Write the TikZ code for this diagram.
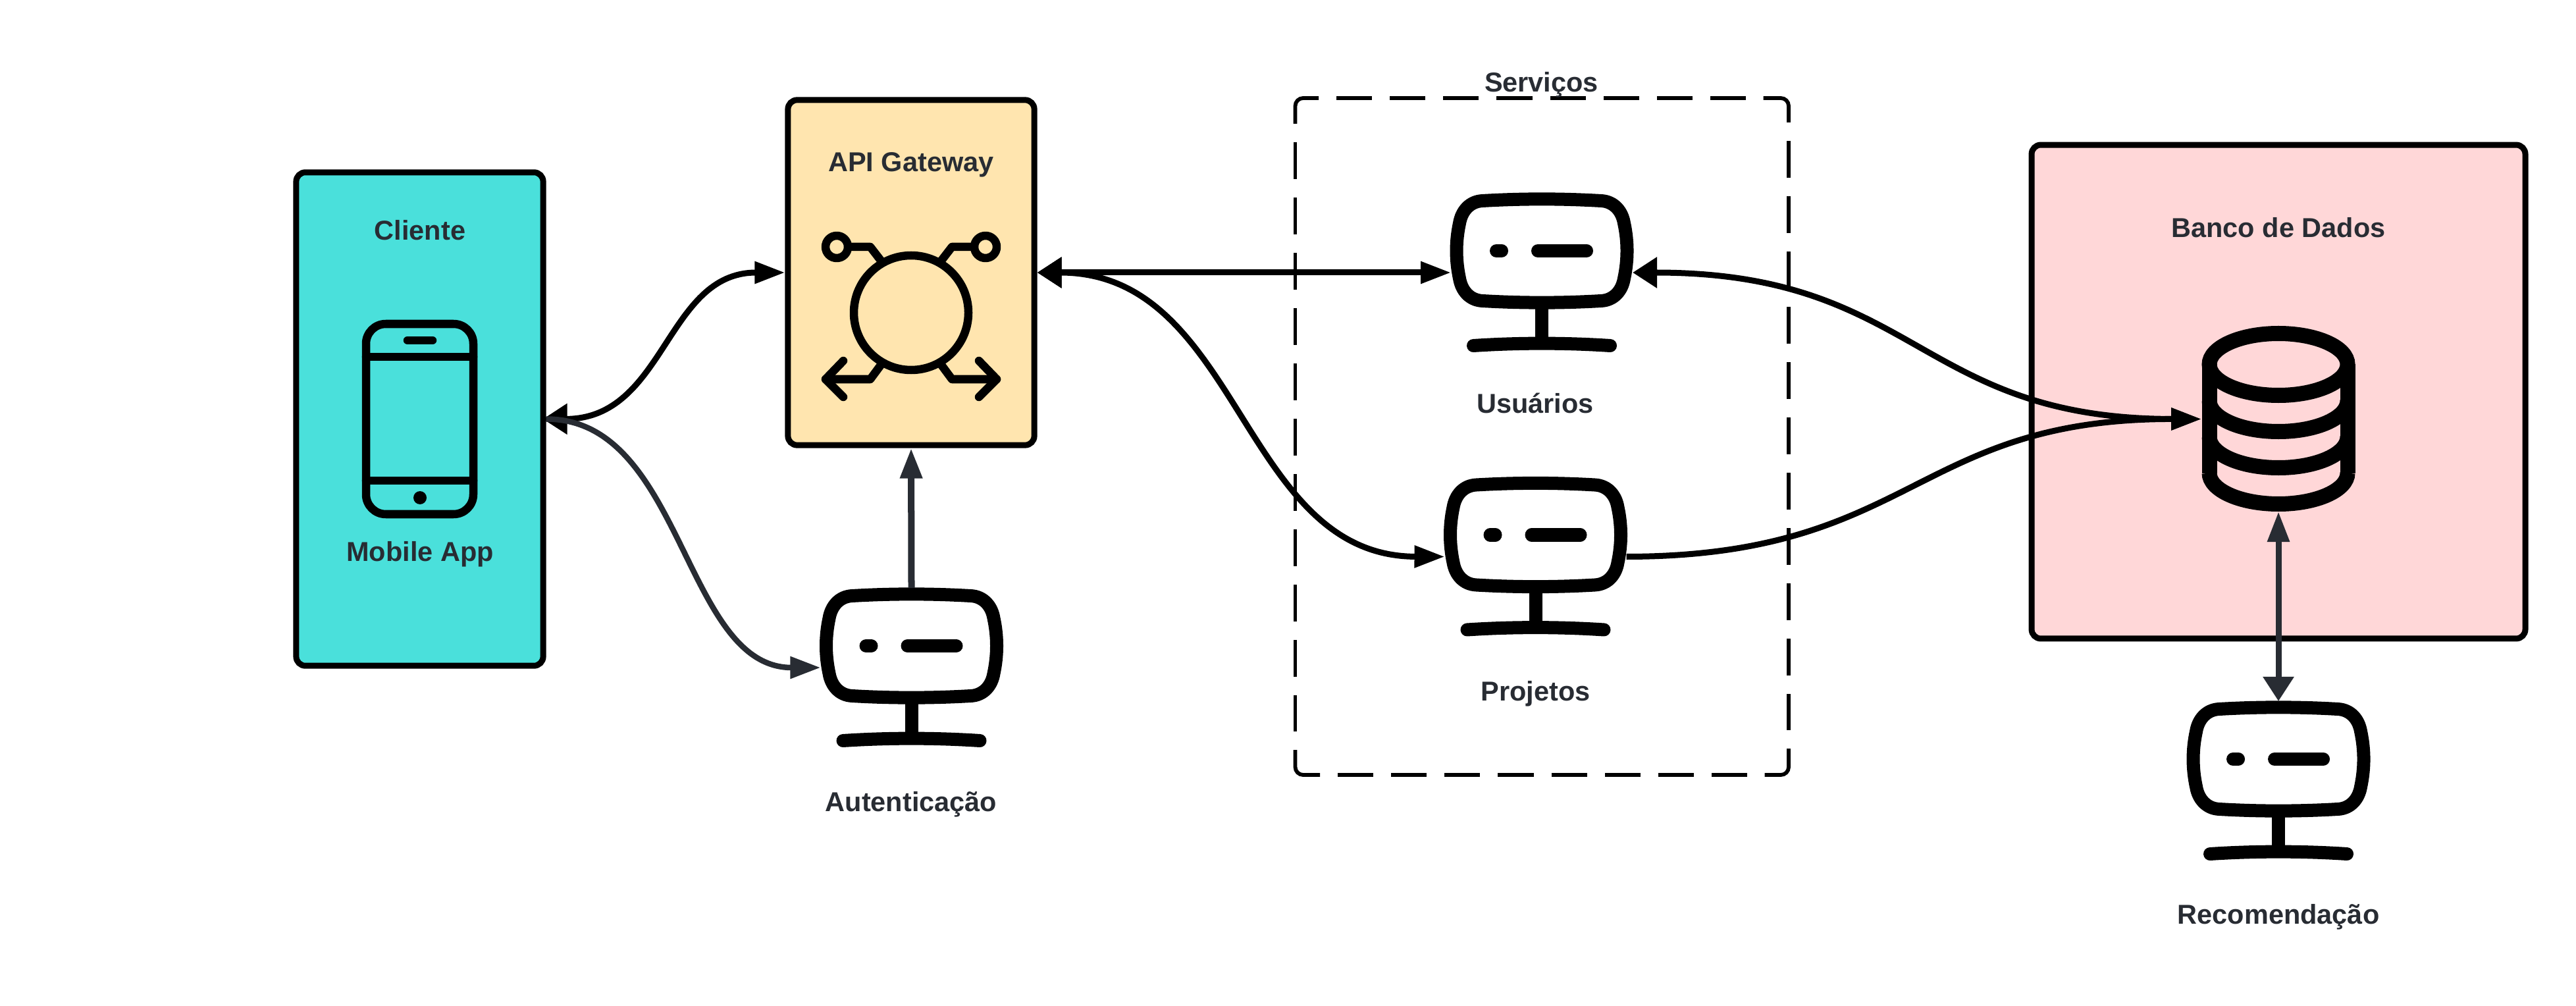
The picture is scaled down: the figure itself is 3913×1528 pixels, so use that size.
\documentclass[tikz,border=0pt]{standalone}
\usepackage{fontspec}
\setmainfont{Liberation Sans}
\usetikzlibrary{arrows.meta}

\definecolor{ink}{HTML}{282C33}
\definecolor{clientfill}{HTML}{4AE0DB}
\definecolor{gatewayfill}{HTML}{FFE5AF}
\definecolor{bankfill}{HTML}{FFD7D8}

\tikzset{
  box/.style={draw=black, line width=0.09cm, rounded corners=0.14cm, inner sep=0pt},
  label/.style={text=ink, font=\fontsize{11.8pt}{14pt}\selectfont\bfseries, inner sep=0pt, anchor=base},
  wide/.tip={Triangle[length=0.37cm,width=0.45cm]},
  slim/.tip={Triangle[length=0.46cm,width=0.32cm]},
  link/.style={line width=0.09cm, black, wide-slim},
  oneway/.style={line width=0.09cm, -slim},
  fence/.style={line width=0.058cm, rounded corners=0.12cm},
  fencedash/.style={line width=0.058cm, dash pattern=on 0.56cm off 0.28cm},
  icon/.style={line width=0.125cm, line cap=round, line join=round},
  server/.pic={
    \filldraw[fill=white, line width=0.2cm, line join=round]
      (-90,-76) .. controls (-30,-79.5) and (30,-79.5) .. (90,-76)
      .. controls (110,-75) and (122,-60) .. (125,-42)
      .. controls (131,-14) and (131,14) .. (125,42)
      .. controls (122,60) and (110,75) .. (90,76)
      .. controls (30,79.5) and (-30,79.5) .. (-90,76)
      .. controls (-110,75) and (-122,60) .. (-125,42)
      .. controls (-131,14) and (-131,-14) .. (-125,-42)
      .. controls (-122,-60) and (-110,-75) .. (-90,-76) -- cycle;
    \draw[line width=0.2cm, line cap=round] (-69,0) -- (-61,0);
    \draw[line width=0.2cm, line cap=round] (-6,0) -- (68,0);
    \draw[line width=0.2cm] (0,88) -- (0,140);
    \draw[line width=0.2cm, line cap=round] (-104,144) .. controls (-35,139.5) and (35,139.5) .. (104,144);
    \coordinate (-west) at (-138,33);
    \coordinate (-east) at (138,33);
    \coordinate (-north) at (0,-88);
  }
}

\begin{document}
\begin{tikzpicture}[x=0.01cm, y=-0.01cm]

\path[use as bounding box] (0,0) rectangle (3913,1528);

% boxes
\node[box, fill=clientfill, minimum width=3.75cm, minimum height=7.49cm] (client) at (637.5,636.5) {};
\node[box, fill=gatewayfill, minimum width=3.74cm, minimum height=5.24cm] (gateway) at (1384,414) {};
\node[box, fill=bankfill, minimum width=7.495cm, minimum height=7.495cm] (bank) at (3461,595) {};

% dashed services frame
\draw[fence] (1967.5,188) -- (1967.5,149) -- (2003,149);
\draw[fence] (2678.5,149) -- (2717,149) -- (2717,186);
\draw[fence] (1967.5,1139) -- (1967.5,1177) -- (2005,1177);
\draw[fence] (2717,1137) -- (2717,1177) -- (2680.5,1177);
\draw[fencedash, dash pattern=on 0.54cm off 0.271cm] (2030,149) -- (2652,149);
\draw[fencedash, dash pattern=on 0.54cm off 0.271cm] (2032,1177) -- (2654,1177);
\draw[fencedash] (1967.5,216) -- (1967.5,1111);
\draw[fencedash] (2717,214) -- (2717,1109);

% box labels
\node[label] (clientlabel) at (638,364.5) {Cliente};
\node[label] (applabel) at (638,852) {Mobile App};
\node[label] (gatewaylabel) at (1384,260.5) {API Gateway};
\node[label] (serviceslabel) at (2341.5,140) {Serviços};
\node[label] (banklabel) at (3461,360.5) {Banco de Dados};

% phone
\draw[icon, rounded corners=0.3cm] (556,492) rectangle (719,781);
\draw[icon] (556,542) -- (719,542);
\draw[icon] (556,730) -- (719,730);
\draw[icon] (619,517) -- (657,517);
\fill (638,756) circle (10);

% gateway icon
\draw[icon] (1384,475) circle (87);
\draw[icon] (1271,375) circle (17);
\draw[icon] (1497,375) circle (17);
\draw[icon] (1288,375) -- (1322,375) -- (1339,397);
\draw[icon] (1480,375) -- (1446,375) -- (1429,397);
\draw[icon] (1339,553) -- (1322,576) -- (1254,576);
\draw[icon] (1429,553) -- (1446,576) -- (1514,576);
\draw[icon] (1281,548) -- (1254,576) -- (1281,603);
\draw[icon] (1487,548) -- (1514,576) -- (1487,603);

% database
\begin{scope}[line width=0.23cm]
\draw (3461,553.5) ellipse (105 and 47);
\draw (3356,553.5) -- (3356,718.5);
\draw (3566,553.5) -- (3566,718.5);
\draw (3356,608.5) .. controls (3356,634.5) and (3403,655.5) .. (3461,655.5) .. controls (3519,655.5) and (3566,634.5) .. (3566,608.5);
\draw (3356,663.5) .. controls (3356,689.5) and (3403,710.5) .. (3461,710.5) .. controls (3519,710.5) and (3566,689.5) .. (3566,663.5);
\draw (3356,718.5) .. controls (3356,744.5) and (3403,765.5) .. (3461,765.5) .. controls (3519,765.5) and (3566,744.5) .. (3566,718.5);
\end{scope}
\coordinate (dbwest) at (3344,636.5);
\coordinate (dbsouth) at (3461,777);

% servers
\pic (auth) at (1384.5,981) {server};
\pic (users) at (2342,381) {server};
\pic (projects) at (2332.5,812.5) {server};
\pic (rec) at (3461,1153) {server};

\node[label] (authlabel) at (1384,1232) {Autenticação};
\node[label] (userslabel) at (2332,627.5) {Usuários};
\node[label] (projectslabel) at (2332.5,1064) {Projetos};
\node[label] (reclabel) at (3461,1403) {Recomendação};

% connections
\draw[link, shorten <=-0.05cm] (client.east) .. controls (1011,636) and (1011,414) .. (gateway.west);
\draw[oneway, ink, line width=0.085cm] (client.east) .. controls (1038,636) and (1038,1014) .. (auth-west);
\draw[oneway, ink, line width=0.1cm] (auth-north) -- (gateway.south);
\draw[link] (gateway.east) -- (users-west);
\draw[link] (gateway.east) .. controls (1885,414) and (1885,845) .. (projects-west);
\draw[link] (users-east) .. controls (2913,414) and (2913,636) .. (dbwest);
\draw[oneway] (projects-east) .. controls (2907,845) and (2907,636) .. (dbwest);
\draw[link, ink] (rec-north) -- (dbsouth);

\end{tikzpicture}
\end{document}
